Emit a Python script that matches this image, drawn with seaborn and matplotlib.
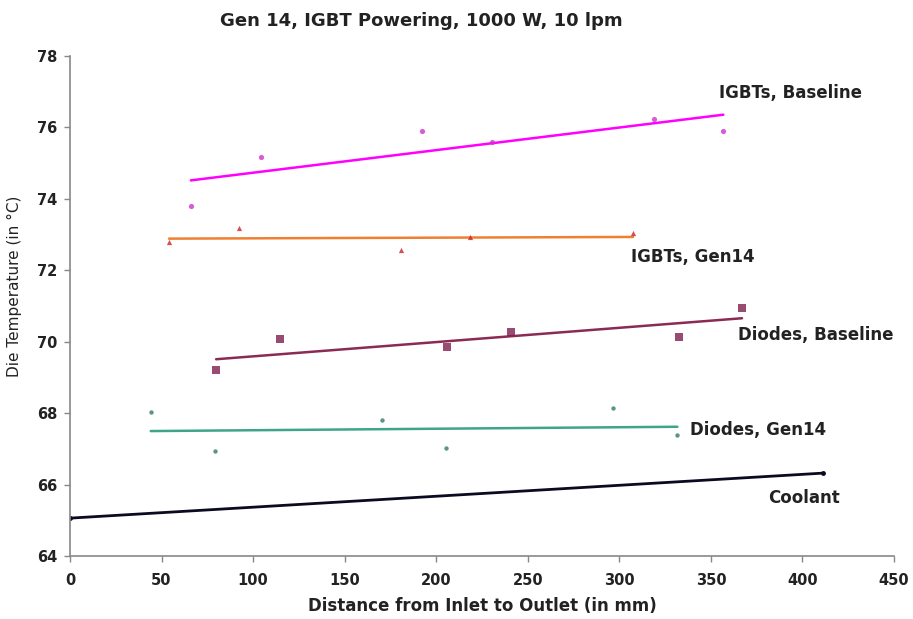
import matplotlib
matplotlib.use("Agg")
import matplotlib.pyplot as plt
import seaborn as sns
import pandas as pd

# ---- data ----
igbt_base_x = [66.0, 104.1, 192.3, 230.4, 318.7, 356.8]
igbt_base_y = [73.80, 75.16, 75.91, 75.59, 76.25, 75.91]

igbt_gen14_x = [54.1, 92.4, 180.6, 218.5, 307.5]
igbt_gen14_y = [72.80, 73.18, 72.58, 72.94, 73.04]

diode_base_x = [79.8, 114.7, 205.7, 240.6, 332.6, 367.0]
diode_base_y = [69.21, 70.08, 69.86, 70.27, 70.14, 70.94]

diode_gen14_x = [44.1, 79.2, 170.6, 205.2, 296.4, 331.7]
diode_gen14_y = [68.03, 66.94, 67.80, 67.03, 68.15, 67.40]

coolant_x = [0, 411]
coolant_y = [65.06, 66.32]

x_ticks = [0, 50, 100, 150, 200, 250, 300, 350, 400, 450]
y_ticks = [64, 66, 68, 70, 72, 74, 76, 78]

sns.set_theme(style="white")
plt.rcParams['font.family'] = ['DejaVu Sans']

fig = plt.figure(figsize=(9.13, 6.19), dpi=100)
ax = fig.add_axes([70/913, 63/619, (894-70)/913, (556-56)/619])

def reg(x, y, pt_color, ln_color, marker, s):
    df = pd.DataFrame({"x": x, "y": y})
    sns.regplot(data=df, x="x", y="y", ax=ax, ci=None, marker=marker,
                scatter_kws=dict(s=s, color=pt_color, linewidths=0, zorder=3),
                line_kws=dict(color=ln_color, lw=1.8, zorder=2))

reg(igbt_base_x, igbt_base_y, "#CC33CC", "#FF00FF", "o", 14)
reg(igbt_gen14_x, igbt_gen14_y, "#CC2222", "#F08030", "^", 14)
reg(diode_base_x, diode_base_y, "#7F1F4F", "#8B2A55", "s", 40)
reg(diode_gen14_x, diode_gen14_y, "#2E7D6A", "#3FA58A", "o", 10)

cdf = pd.DataFrame({"x": coolant_x, "y": coolant_y})
sns.lineplot(data=cdf, x="x", y="y", ax=ax, color="#0A0A20", lw=2.0,
             marker="o", markersize=3.5, markeredgewidth=0)

ax.set_xlim(0, 450)
ax.set_ylim(64, 78)
ax.set_xticks(x_ticks)
ax.set_yticks(y_ticks)
ax.set_xticklabels([str(v) for v in x_ticks], fontsize=10.5, fontweight="bold", color="#222222")
ax.set_yticklabels([str(v) for v in y_ticks], fontsize=10.5, fontweight="bold", color="#222222")
ax.tick_params(axis="both", direction="out", length=4, width=1, color="#888888",
               bottom=True, left=True)
ax.tick_params(axis="x", pad=8)
ax.tick_params(axis="y", pad=5)
for side in ["top", "right"]:
    ax.spines[side].set_visible(False)
for side in ["left", "bottom"]:
    ax.spines[side].set_color("#888888")
    ax.spines[side].set_linewidth(1.2)

ax.set_xlabel("Distance from Inlet to Outlet (in mm)", fontsize=12, fontweight="bold",
              color="#222222", labelpad=7)
ax.set_ylabel("Die Temperature (in °C)", fontsize=11, color="#222222", labelpad=10)
ax.yaxis.set_label_coords(-0.058, 0.54)
ax.grid(False)

fig.text(421/913, 1 - 21/619, "Gen 14, IGBT Powering, 1000 W, 10 lpm", ha="center",
         va="center", fontsize=13, fontweight="bold", color="#222222")

lab = dict(fontsize=12, fontweight="bold", color="#222222", va="center", ha="left")
def ann(px, py, s):
    x = (px - 70) / 1.831
    y = 64 + (556 - py) / 35.7
    ax.text(x, y, s, **lab)

ann(719, 93, "IGBTs, Baseline")
ann(631, 257, "IGBTs, Gen14")
ann(738, 335, "Diodes, Baseline")
ann(690, 430, "Diodes, Gen14")
ann(768, 498, "Coolant")

fig.savefig("out.png", dpi=100)
